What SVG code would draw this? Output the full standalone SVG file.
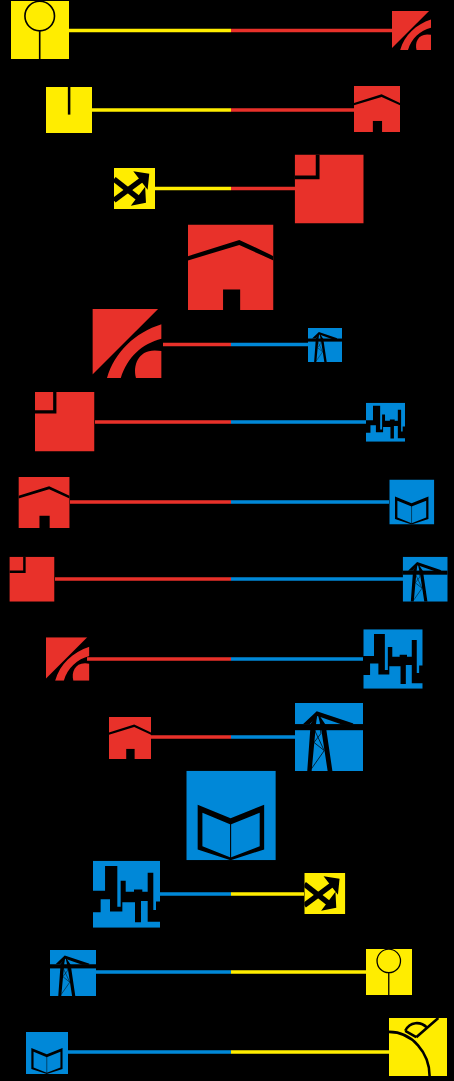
<svg xmlns="http://www.w3.org/2000/svg" width="454" height="1081" viewBox="0 0 454 1081">
<style>
.y{color:#FFED00}.r{color:#E8312A}.b{color:#0088D8}
.ln{stroke-width:3.5;fill:none}
.ly{stroke:#FFED00}.lr{stroke:#E8312A}.lb{stroke:#0088D8}
</style>
<defs>
<symbol id="s-circle" viewBox="0 0 100 100"><rect width="100" height="100" fill="currentColor"/><circle cx="49.500" cy="26" r="25.500" fill="none" stroke="#000" stroke-width="2.800"/><path d="M49.500 52V100" stroke="#000" stroke-width="2.800"/></symbol>
<symbol id="s-slot" viewBox="0 0 100 100"><rect width="100" height="100" fill="currentColor"/><rect x="47.500" width="5.500" height="60" fill="#000"/></symbol>
<symbol id="s-arrows" viewBox="0 0 100 100"><rect width="100" height="100" fill="currentColor"/><path d="M0 27L66 79" stroke="#000" stroke-width="13" fill="none"/><path d="M0 79L76 22" stroke="#000" stroke-width="13" fill="none"/><path d="M47 8L86 14L82 53Z M76 46L78 85L41 92Z" fill="#000"/></symbol>
<symbol id="s-feed" viewBox="0 0 100 100"><path d="M0 0H95L0 95Z" fill="currentColor"/><path d="M21 100C32 62 62 34 100 22V43C72 50 50 70 41 100Z" fill="currentColor"/><path d="M100 100H63C58 82 66 60 90 60Q96 60 100 61Z" fill="currentColor"/></symbol>
<symbol id="s-house" viewBox="0 0 100 100"><rect width="100" height="100" fill="currentColor"/><path d="M0 37L60 18L100 37V42L60 24L0 42Z" fill="#000"/><rect x="41" y="76" width="20" height="24" fill="#000"/></symbol>
<symbol id="s-square" viewBox="0 0 100 100"><rect width="100" height="100" fill="currentColor"/><path d="M30.500 0H36V36H0V30.500H30.500Z" fill="#000"/></symbol>
<symbol id="s-book" viewBox="0 0 100 100"><rect width="100" height="100" fill="currentColor"/><path fill-rule="evenodd" d="M12.700 38L49.500 53L87 38V88L49.500 100L12.700 88Z M18 47V84.500L49.500 97L82 84.500V47L49.500 60Z" fill="#000"/><path d="M49.500 58V98" stroke="#000" stroke-width="1.200"/></symbol>
<symbol id="s-tower" viewBox="0 0 100 100"><rect width="100" height="100" fill="currentColor"/><rect y="31" width="100" height="9" fill="#000"/><path d="M12 31L32 12L86 30L84 32L70 32L33 19L22 31Z" fill="#000"/><path d="M23 31L18 100H24.500L31 30L33 14Z M33 14L38 35L48 100H55L45 32Z" fill="#000"/><path d="M32 18L27 36L43 70L24 97M37 30L38 45L28 58L43 70" stroke="#000" stroke-width="1.100" fill="none"/></symbol>
<symbol id="s-city" viewBox="0 0 100 100"><path d="M0 0H100V61H94V73.600H90V18H81.600V46.300H73.600V42.800H61.200V46.300H48.800V30H41.300V68.700H36.300V8H18V44.800H0Z" fill="currentColor"/><path d="M0 77H11.400V57.700H25.400V76H43.800V62H62.700V92H71.600V60H81.600V91H100V100H0Z" fill="currentColor"/></symbol>
<symbol id="s-sun" viewBox="0 0 100 100"><rect width="100" height="100" fill="currentColor"/><path d="M0 24C40 24 70 60 70 100M28 22C36 6 54 5 66 17M47 33L85 0M28 22L47 33" fill="none" stroke="#000" stroke-width="4.500"/></symbol>
</defs>
<rect width="454" height="1081" fill="#000"/>
<g id="connectors" class="ln">
<path class="ly" d="M69 30.500H231"/><path class="lr" d="M231 30.500H392"/>
<path class="ly" d="M92 110H231"/><path class="lr" d="M231 110H354"/>
<path class="ly" d="M155 188.500H231"/><path class="lr" d="M231 188.500H295"/>
<path class="lr" d="M163 344.500H231"/><path class="lb" d="M231 344.500H308"/>
<path class="lr" d="M95 422H231"/><path class="lb" d="M231 422H366"/>
<path class="lr" d="M70 502H231"/><path class="lb" d="M231 502H389"/>
<path class="lr" d="M55 579H231"/><path class="lb" d="M231 579H403"/>
<path class="lr" d="M87 659H231"/><path class="lb" d="M231 659H363"/>
<path class="lr" d="M151 737H231"/><path class="lb" d="M231 737H295"/>
<path class="lb" d="M160 894H231"/><path class="ly" d="M231 894H304"/>
<path class="lb" d="M96 972H231"/><path class="ly" d="M231 972H366"/>
<path class="lb" d="M68 1052H231"/><path class="ly" d="M231 1052H389"/>
</g>
<g id="n1" class="y"><use href="#s-circle" x="11" y="1" width="58" height="58"/></g>
<g id="n2" class="r"><use href="#s-feed" x="392" y="11" width="39" height="39"/></g>
<g id="n3" class="y"><use href="#s-slot" x="46" y="87" width="46" height="46"/></g>
<g id="n4" class="r"><use href="#s-house" x="354" y="86" width="46" height="46"/></g>
<g id="n5" class="y"><use href="#s-arrows" x="114" y="168" width="41" height="41"/></g>
<g id="n6" class="r"><use href="#s-square" x="294.700" y="154.500" width="69" height="69"/></g>
<g id="n7" class="r"><use href="#s-house" x="188" y="224.500" width="85.500" height="85.500"/></g>
<g id="n8" class="r"><use href="#s-feed" x="92.300" y="309" width="69.400" height="69"/></g>
<g id="n9" class="b"><use href="#s-tower" x="308" y="328" width="34" height="34"/></g>
<g id="n10" class="r"><use href="#s-square" x="35" y="392" width="59.500" height="59.500"/></g>
<g id="n11" class="b"><use href="#s-city" x="366" y="402.700" width="39" height="39"/></g>
<g id="n12" class="r"><use href="#s-house" x="18.300" y="477" width="51.500" height="51"/></g>
<g id="n13" class="b"><use href="#s-book" x="389.300" y="479.500" width="45" height="45"/></g>
<g id="n14" class="r"><use href="#s-square" x="9.300" y="556.700" width="45.300" height="45"/></g>
<g id="n15" class="b"><use href="#s-tower" x="402.700" y="556.700" width="45" height="45"/></g>
<g id="n16" class="r"><use href="#s-feed" x="46" y="637.300" width="43.400" height="43.400"/></g>
<g id="n17" class="b"><use href="#s-city" x="363.300" y="629.300" width="59.400" height="59.400"/></g>
<g id="n18" class="r"><use href="#s-house" x="109" y="717" width="42" height="42"/></g>
<g id="n19" class="b"><use href="#s-tower" x="295" y="703" width="68" height="68"/></g>
<g id="n20" class="b"><use href="#s-book" x="186.300" y="770.700" width="89.500" height="89.500"/></g>
<g id="n21" class="b"><use href="#s-city" x="93" y="860.700" width="67" height="67"/></g>
<g id="n22" class="y"><use href="#s-arrows" x="304.300" y="873" width="41" height="41"/></g>
<g id="n23" class="b"><use href="#s-tower" x="50" y="950" width="46" height="46"/></g>
<g id="n24" class="y"><use href="#s-circle" x="366" y="949" width="46" height="46"/></g>
<g id="n25" class="b"><use href="#s-book" x="26" y="1032" width="42" height="42"/></g>
<g id="n26" class="y"><use href="#s-sun" x="389" y="1018" width="58" height="58"/></g>
</svg>
